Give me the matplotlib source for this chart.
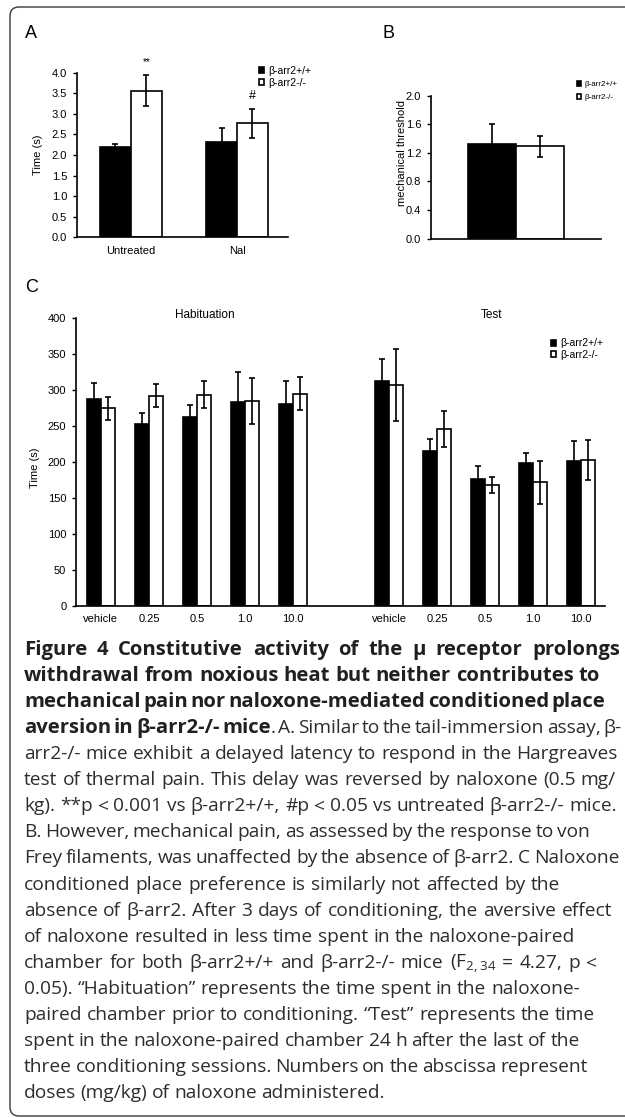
import matplotlib
matplotlib.use('Agg')
import matplotlib.pyplot as plt
from matplotlib.patches import FancyBboxPatch
from matplotlib.transforms import IdentityTransform, blended_transform_factory
import numpy as np

W, H = 625, 1118
DPI = 100

# ---------------- data ----------------
series = ['β-arr2+/+', 'β-arr2-/-']

a_cats = ['Untreated', 'Nal']
a_wt = [2.20, 2.31]
a_wt_err = [0.07, 0.34]
a_ko = [3.56, 2.77]
a_ko_err = [0.38, 0.35]
a_marks = ['**', '#']

b_wt = [1.32]
b_wt_err = [0.28]
b_ko = [1.29]
b_ko_err = [0.15]

doses = ['vehicle', '0.25', '0.5', '1.0', '10.0']
hab_wt = [288, 253, 263, 284, 281]
hab_wt_err = [22, 16, 17, 41, 32]
hab_ko = [275, 292, 294, 285, 295]
hab_ko_err = [16, 16, 19, 32, 23]
test_wt = [313, 216, 176, 199, 202]
test_wt_err = [31, 16, 19, 14, 27]
test_ko = [307, 246, 168, 172, 203]
test_ko_err = [50, 25, 11, 30, 28]

caption_bold = [
    "Figure 4 Constitutive activity of the μ receptor prolongs",
    "withdrawal from noxious heat but neither contributes to",
    "mechanical pain nor naloxone-mediated conditioned place",
    "aversion in β-arr2-/- mice",
]
caption_line4_rest = ". A. Similar to the tail-immersion assay, β-"
caption_regular = [
    "arr2-/- mice exhibit a delayed latency to respond in the Hargreaves",
    "test of thermal pain. This delay was reversed by naloxone (0.5 mg/",
    "kg). **p < 0.001 vs β-arr2+/+, #p < 0.05 vs untreated β-arr2-/- mice.",
    "B. However, mechanical pain, as assessed by the response to von",
    "Frey filaments, was unaffected by the absence of β-arr2. C Naloxone",
    "conditioned place preference is similarly not affected by the",
    "absence of β-arr2. After 3 days of conditioning, the aversive effect",
    "of naloxone resulted in less time spent in the naloxone-paired",
    r"chamber for both β-arr2+/+ and β-arr2-/- mice (F$\mathregular{_{2,34}}$ = 4.27, p <",
    "0.05). “Habituation” represents the time spent in the naloxone-",
    "paired chamber prior to conditioning. “Test” represents the time",
    "spent in the naloxone-paired chamber 24 h after the last of the",
    "three conditioning sessions. Numbers on the abscissa represent",
    "doses (mg/kg) of naloxone administered.",
]
# approximate right ends (px) of the caption lines in the reference (layout targets)
bold_right = [620, 600, 602, 288]
line4_right = 618
regular_right = [618, 616, 617, 590, 619, 560, 612, 575, 597, 580, 595, 580, 588, 385]

# ---------------- style ----------------
plt.rcParams['font.family'] = ['Liberation Sans', 'DejaVu Sans']
plt.rcParams['mathtext.fontset'] = 'custom'
plt.rcParams['mathtext.rm'] = 'Open Sans'
TICK_FS = 8
LW = 1.2

fig = plt.figure(figsize=(W / DPI, H / DPI), dpi=DPI)
fig.patch.set_facecolor('white')


def px_axes(l, t, r, b):
    return fig.add_axes([l / W, 1 - b / H, (r - l) / W, (b - t) / H])


def style_axes(ax):
    for s in ['top', 'right']:
        ax.spines[s].set_visible(False)
    for s in ['left', 'bottom']:
        ax.spines[s].set_linewidth(LW)
        ax.spines[s].set_color('black')
    ax.tick_params(axis='y', direction='out', length=3, width=1, labelsize=TICK_FS, pad=4)
    ax.tick_params(axis='x', length=0, labelsize=TICK_FS, pad=6)
    ax.set_facecolor('none')


def legend_at(ax, px, py, fs=7.5, spacing=0.15, hl=0.5):
    ax.legend(frameon=False, loc='upper left', bbox_to_anchor=(px / W, 1 - py / H),
              bbox_transform=fig.transFigure, borderpad=0, borderaxespad=0,
              handlelength=hl, handleheight=hl, handletextpad=0.4,
              labelspacing=spacing, fontsize=fs)


def bars(ax, x, wt, wt_err, ko, ko_err, w, labels=True):
    x = np.asarray(x, dtype=float)
    ax.bar(x - w / 2, wt, w, color='black', edgecolor='black', linewidth=LW,
           label=series[0] if labels else None, zorder=2)
    ax.bar(x + w / 2, ko, w, color='white', edgecolor='black', linewidth=LW,
           label=series[1] if labels else None, zorder=2)
    ax.errorbar(x - w / 2, wt, yerr=wt_err, fmt='none', ecolor='black', elinewidth=LW,
                capsize=2.2, capthick=LW, zorder=1)
    ax.errorbar(x + w / 2, ko, yerr=ko_err, fmt='none', ecolor='black', elinewidth=LW,
                capsize=2.2, capthick=LW, zorder=3)


# ---------------- panel A ----------------
axA = px_axes(76.7, 72.7, 288, 237.3)
style_axes(axA)
xa = np.arange(len(a_cats))
wA = 0.29
bars(axA, xa, a_wt, a_wt_err, a_ko, a_ko_err, wA)
axA.set_xlim(-0.51, 1.48)
axA.set_ylim(0, 4.0)
at = np.arange(0, 4.01, 0.5)
axA.set_yticks(at)
axA.set_yticklabels([f"{v:.1f}" for v in at])
axA.set_xticks(xa)
axA.set_xticklabels(a_cats)
axA.set_ylabel('Time (s)', fontsize=TICK_FS)
axA.yaxis.set_label_coords((43 - 76.7) / (288 - 76.7), 0.5)
for i, m in enumerate(a_marks):
    top = a_ko[i] + a_ko_err[i]
    axA.annotate(m, (xa[i] + wA / 2, top), xytext=(0, 9.5), textcoords='offset points',
                 ha='center', va='center', fontsize=7 if m == '**' else 9, annotation_clip=False)
legend_at(axA, 259, 66)

# ---------------- panel B ----------------
axB = px_axes(431, 95.7, 601, 238.7)
style_axes(axB)
wB = 0.285
bars(axB, [0], b_wt, b_wt_err, b_ko, b_ko_err, wB)
axB.set_xlim(-0.5, 0.5)
axB.set_ylim(0, 2.0)
bt = np.arange(0, 2.01, 0.4)
axB.set_yticks(bt)
axB.set_yticklabels([f"{v:.1f}" for v in bt])
axB.set_xticks([])
fig.text(401.7 / W, 1 - 153.5 / H, 'mechanical threshold', rotation=90, ha='center', va='center',
         fontsize=TICK_FS)
legend_at(axB, 576.5, 81, fs=5.8, spacing=0.7, hl=0.6)

# ---------------- panel C ----------------
axC = px_axes(76, 318.3, 605, 606)
style_axes(axC)
wC = 0.285
xh = np.arange(len(doses))
xt = xh + len(doses) + 1
bars(axC, xh, hab_wt, hab_wt_err, hab_ko, hab_ko_err, wC)
bars(axC, xt, test_wt, test_wt_err, test_ko, test_ko_err, wC, labels=False)
axC.set_xlim(-0.52, 10.5)
axC.set_ylim(0, 400)
axC.set_yticks(np.arange(0, 401, 50))
axC.set_xticks(np.concatenate([xh, xt]))
axC.set_xticklabels(doses + doses)
axC.set_ylabel('Time (s)', fontsize=TICK_FS)
axC.yaxis.set_label_coords((40 - 76) / (605 - 76), 0.48)
trC = blended_transform_factory(axC.transData, axC.transAxes)
axC.text(2.17, 1.012, 'Habituation', transform=trC, ha='center', va='center', fontsize=8.5)
axC.text(8.14, 1.012, 'Test', transform=trC, ha='center', va='center', fontsize=8.5)
legend_at(axC, 550.5, 338.5)

# ---------------- panel letters ----------------
for lab, x, y in [('A', 25, 33.5), ('B', 382, 33), ('C', 25, 287)]:
    fig.text(x / W, 1 - y / H, lab, fontsize=13, ha='left', va='center')

# ---------------- frame ----------------
frame = FancyBboxPatch((10, 2), 3000, 1109, boxstyle='round,pad=0,rounding_size=9',
                       transform=IdentityTransform(), facecolor='none', edgecolor='#3a3a3a',
                       linewidth=1.0, clip_on=False)
fig.add_artist(frame)

# ---------------- caption ----------------
renderer = fig.canvas.get_renderer()
CAP_FONT = ['Open Sans', 'DejaVu Sans']
X0 = 24.0
BASE0 = 655
STEP = 26.06
bold_col = '#231f20'
reg_col = '#2d2d2d'


def text_width(s, fs, weight):
    t = fig.text(0, 0, s, fontsize=fs, fontweight=weight, family=CAP_FONT)
    w = t.get_window_extent(renderer=renderer).width
    t.remove()
    return w


# font sizes fitted to the reference line lengths (median ratio)
bw = [text_width(s, 12, 'bold') for s in caption_bold[1:]]
fs_bold = 12 * float(np.median([(r - X0) / w for r, w in zip(bold_right[1:], bw)]))
rw = [text_width(s, 12, 'normal') for s in caption_regular]
fs_reg = 12 * float(np.median([(r - X0) / w for r, w in zip(regular_right, rw)]))
SIZES = {'bold': fs_bold, 'normal': fs_reg}
SPACE = {k: text_width('a a', v, k) - text_width('aa', v, k) for k, v in SIZES.items()}


def tokens_of(s, weight):
    return [(w, weight, k > 0) for k, w in enumerate(s.split(' '))]


def draw_line(tokens, y_base, right):
    widths = [text_width(t, SIZES[wt], wt) for t, wt, _ in tokens]
    gap_tokens = [t for t in tokens[1:] if t[2]]
    ngaps = max(len(gap_tokens), 1)
    natural_space = SPACE[tokens[0][1]]
    gap = max(0.5 * natural_space, ((right - X0) - sum(widths)) / ngaps)
    gap = min(gap, max(natural_space, ((right - X0) - sum(widths)) / ngaps))
    x = X0
    for k, ((t, wt, sp), w) in enumerate(zip(tokens, widths)):
        if k > 0 and sp:
            x += gap
        fig.text(x / W, 1 - y_base / H, t, fontsize=SIZES[wt], fontweight=wt, family=CAP_FONT,
                 color=bold_col if wt == 'bold' else reg_col, ha='left', va='baseline')
        x += w


for i in range(3):
    draw_line(tokens_of(caption_bold[i], 'bold'), BASE0 + STEP * i, bold_right[i])

line4 = tokens_of(caption_bold[3], 'bold')
rest = caption_line4_rest.split(' ')
line4.append((rest[0], 'normal', False))
line4 += [(w, 'normal', True) for w in rest[1:]]
draw_line(line4, BASE0 + STEP * 3, line4_right)

for j, s in enumerate(caption_regular):
    draw_line(tokens_of(s, 'normal'), BASE0 + STEP * (j + 4), regular_right[j])

fig.savefig('out.png', dpi=DPI, facecolor='white')
